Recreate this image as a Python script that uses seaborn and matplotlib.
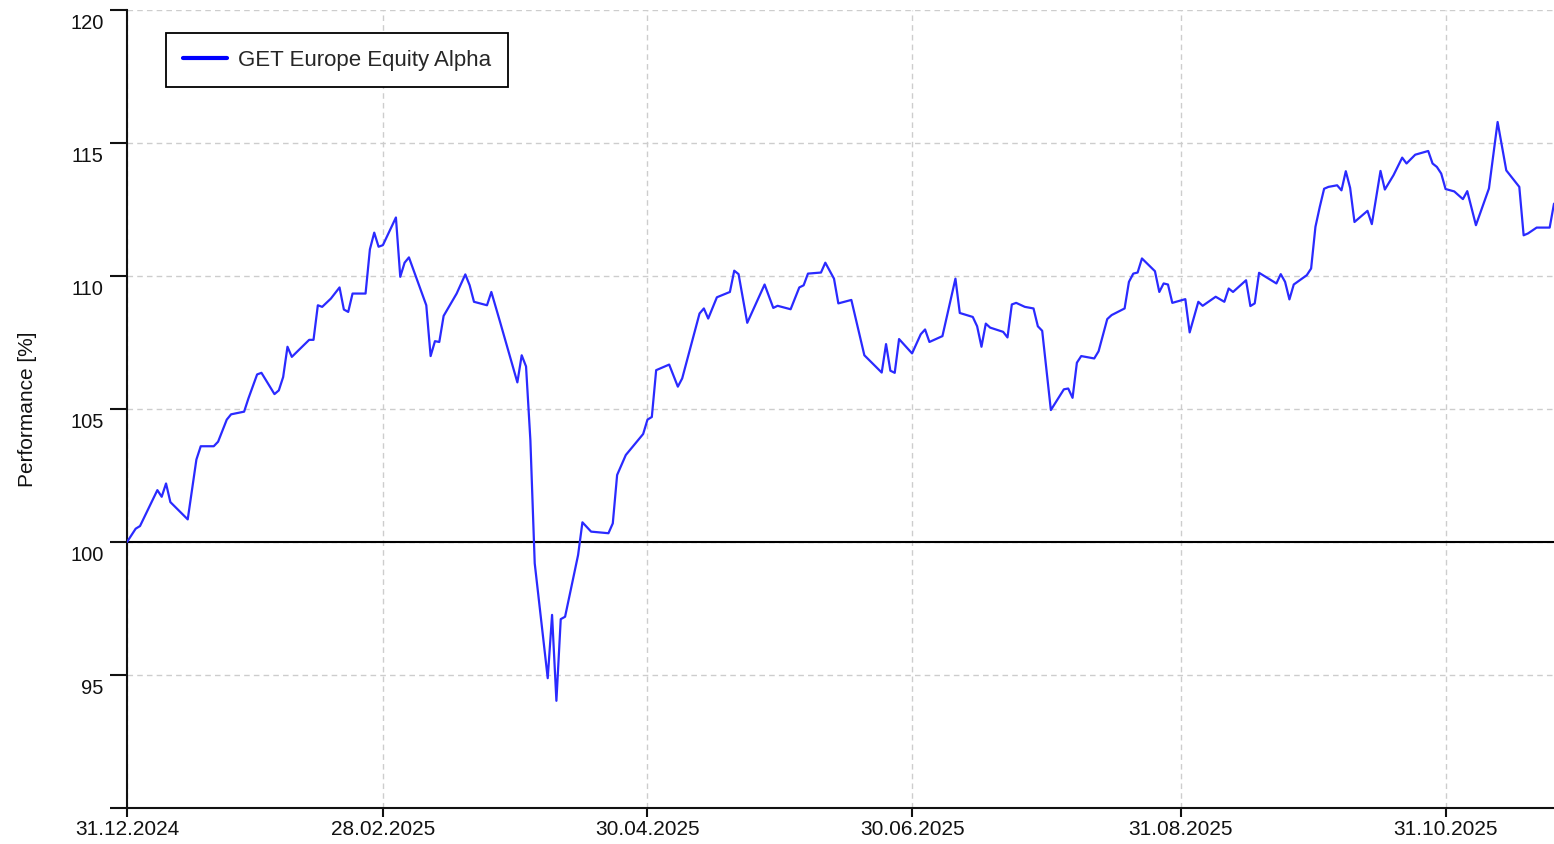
import pandas as pd
import numpy as np
import matplotlib
matplotlib.use("Agg")
import matplotlib.pyplot as plt
import matplotlib.transforms as mtransforms
import seaborn as sns

# Datos: días desde el 31.12.2024 y performance (%)
start_date = "2024-12-31"
end_offset = 329

day_offset = [
    0, 2, 3, 7, 8, 9, 10, 14, 16, 17, 20, 21, 23, 24, 27, 28, 30, 31, 34, 35,
    36, 37, 38, 42, 43, 44, 45, 47, 49, 50, 51, 52, 55, 56, 57, 58, 59, 62, 63, 64,
    65, 69, 70, 71, 72, 73, 76, 78, 79, 80, 83, 84, 86, 90, 91, 92, 93, 94, 97, 98,
    99, 100, 101, 104, 105, 107, 111, 112, 113, 115, 119, 120, 121, 122, 125, 127, 128, 132, 133, 134,
    136, 139, 140, 141, 143, 147, 149, 150, 153, 155, 156, 157, 160, 161, 163, 164, 167, 170, 174, 175,
    176, 177, 178, 181, 183, 184, 185, 188, 191, 192, 195, 196, 197, 198, 199, 202, 203, 204, 205, 207,
    209, 210, 211, 213, 216, 217, 218, 219, 220, 223, 224, 226, 227, 230, 231, 232, 233, 234, 237, 238,
    239, 240, 241, 244, 245, 247, 248, 251, 253, 254, 255, 258, 259, 260, 261, 265, 266, 267, 268, 269,
    272, 273, 274, 275, 276, 277, 279, 280, 281, 282, 283, 286, 287, 289, 290, 292, 294, 295, 297, 300,
    301, 302, 303, 304, 306, 308, 309, 311, 314, 316, 318, 321, 322, 323, 325, 328, 329,
]

performance = [
    100.0, 100.5, 100.6, 101.95, 101.7, 102.2, 101.5, 100.85, 103.1, 103.6, 103.6, 103.77, 104.6, 104.8, 104.9, 105.4, 106.3, 106.36, 105.56, 105.7,
    106.2, 107.34, 106.96, 107.6, 107.6, 108.9, 108.84, 109.15, 109.57, 108.74, 108.65, 109.34, 109.34, 111.0, 111.63, 111.1, 111.16, 112.2, 109.97, 110.5,
    110.7, 108.9, 106.99, 107.55, 107.52, 108.5, 109.34, 110.06, 109.65, 109.03, 108.9, 109.4, 108.28, 106.0, 107.02, 106.6, 103.83, 99.2, 94.88, 97.26,
    94.03, 97.1, 97.19, 99.51, 100.74, 100.39, 100.33, 100.7, 102.52, 103.27, 104.06, 104.6, 104.7, 106.46, 106.67, 105.84, 106.15, 108.59, 108.78, 108.4,
    109.2, 109.4, 110.2, 110.07, 108.24, 109.68, 108.8, 108.88, 108.75, 109.57, 109.65, 110.09, 110.13, 110.5, 109.9, 108.97, 109.1, 107.02, 106.37, 107.44,
    106.44, 106.36, 107.63, 107.09, 107.81, 107.99, 107.52, 107.74, 109.9, 108.61, 108.46, 108.11, 107.34, 108.21, 108.06, 107.9, 107.69, 108.93, 108.99, 108.84,
    108.78, 108.11, 107.94, 104.96, 105.74, 105.77, 105.42, 106.74, 106.99, 106.9, 107.17, 108.38, 108.53, 108.78, 109.78, 110.09, 110.13, 110.66, 110.18, 109.4,
    109.72, 109.68, 108.99, 109.13, 107.88, 109.03, 108.88, 109.22, 109.03, 109.53, 109.4, 109.84, 108.87, 108.97, 110.12, 109.72, 110.07, 109.78, 109.12, 109.68,
    110.03, 110.28, 111.85, 112.6, 113.28, 113.35, 113.41, 113.22, 113.94, 113.31, 112.03, 112.45, 111.95, 113.95, 113.25, 113.79, 114.45, 114.23, 114.56, 114.7,
    114.23, 114.1, 113.85, 113.27, 113.18, 112.89, 113.19, 111.91, 113.29, 115.79, 113.97, 113.35, 111.53, 111.6, 111.82, 111.82, 112.72,
]

tick_dates = ["2024-12-31", "2025-02-28", "2025-04-30", "2025-06-30", "2025-08-31", "2025-10-31"]
y_ticks = [90, 95, 100, 105, 110, 115, 120]
y_tick_labels = ["", "95", "100", "105", "110", "115", "120"]
series_name = "GET Europe Equity Alpha"

t0 = pd.to_datetime(start_date)
df = pd.DataFrame({
    "fecha": t0 + pd.to_timedelta(day_offset, unit="D"),
    "perf": performance,
})

sns.set_style("white")
plt.rcParams["font.family"] = ["Liberation Sans", "DejaVu Sans"]

fig = plt.figure(figsize=(15.54, 8.44), dpi=100)
ax = fig.add_axes([127 / 1554, 36 / 844, 1427 / 1554, 798 / 844])

ax.grid(True, color="#cdcdcd", linestyle=(0, (4, 3)), linewidth=1)
ax.set_axisbelow(True)
ax.axhline(100, color="black", linewidth=1.5, zorder=2)

sns.lineplot(data=df, x="fecha", y="perf", color="#2a2aff", linewidth=1.6,
             label=series_name, ax=ax, zorder=3)

ax.set_xlim(t0, t0 + pd.Timedelta(days=end_offset))
ax.set_ylim(90, 120)

xt = pd.to_datetime(tick_dates)
ax.set_xticks(xt, labels=[d.strftime("%d.%m.%Y") for d in xt])
ax.set_yticks(y_ticks, labels=y_tick_labels, va="top")

ax.tick_params(axis="x", bottom=True, direction="out", length=6.5, width=1.5, pad=2,
               labelsize=15, colors="#111111")
ax.tick_params(axis="y", left=True, direction="out", length=12, width=1.5, pad=5,
               labelsize=14.5, colors="#111111")

# etiquetas del eje y un poco por debajo de la marca, como en el original
shift = mtransforms.ScaledTranslation(0, -3 / 72, fig.dpi_scale_trans)
for lab in ax.get_yticklabels():
    lab.set_transform(lab.get_transform() + shift)

ax.set_xlabel("")
ax.set_ylabel("Performance [%]", fontsize=15, color="#111111", labelpad=24)

for side in ["top", "right"]:
    ax.spines[side].set_visible(False)
for side in ["left", "bottom"]:
    ax.spines[side].set_color("#111111")
    ax.spines[side].set_linewidth(1.5)

leg = ax.legend(loc="upper left", bbox_to_anchor=(0.0273, 0.971), borderaxespad=0,
                fontsize=16, frameon=True, fancybox=False, framealpha=1,
                edgecolor="black", handlelength=2.0, handletextpad=0.5, borderpad=0.75)
leg.get_frame().set_linewidth(1.3)
leg.get_lines()[0].set_linewidth(3)
leg.get_lines()[0].set_color("#0000ff")

fig.savefig("out.png", dpi=100)
